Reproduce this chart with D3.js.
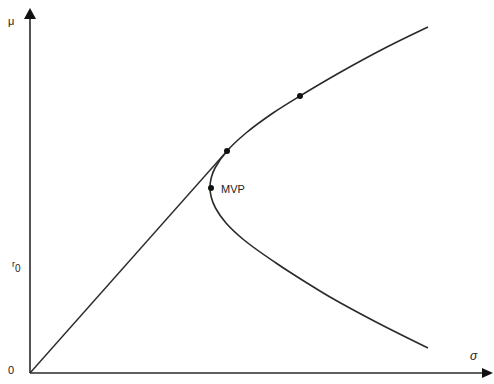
<!DOCTYPE html>
<html>
<head>
<meta charset="utf-8">
<script src="https://cdn.jsdelivr.net/npm/d3@7"></script>
<style>
  html, body { margin: 0; padding: 0; background: #fff; }
  svg { display: block; }
  text { font-family: "Liberation Sans", Arial, sans-serif; fill: #222; }
</style>
</head>
<body>
<svg id="chart" width="494" height="384"></svg>
<script>
// Efficient frontier in (sigma, mu) space, lower branch to upper branch
const frontierSigma = [39.8, 34.6, 30.0, 27.7, 24.6, 21.4, 19.6, 18.55, 18.12, 18.0, 18.12, 18.5, 19.7, 21.6, 24.3, 27.0, 30.9, 35.5, 39.8];
const frontierMu    = [2.5,  5.1,  7.6,  9.0,  11.0, 13.3, 15.0, 16.5,  17.6,  18.55, 19.5, 20.5, 22.2, 24.0, 26.0, 27.7, 30.0, 32.5, 34.6];

// Line from the origin to the tangency portfolio
const lineSigma = [0, 19.7];
const lineMu    = [0, 22.2];

// Marked portfolios: MVP, tangency, and a point further up the frontier
const pointSigma  = [18.1, 19.7, 27.0];
const pointMu     = [18.5, 22.2, 27.7];
const pointLabels = ["MVP", "", ""];

// Axis annotations
const axisLabelX = "σ";
const axisLabelY = "μ";
const originLabel = "0";
const riskFreeLabel = "r";
const riskFreeSub = "0";
const riskFreeMu = 10.5;

const svg = d3.select("#chart");
const x = d3.scaleLinear().domain([0, 46]).range([30, 490]);
const y = d3.scaleLinear().domain([0, 36.5]).range([373, 8]);

const ink = "#2a2a2a";

// Axes with arrowheads
const x0 = x(0), y0 = y(0);
const xEnd = 493, yEnd = 8;
svg.append("line").attr("x1", x0).attr("y1", y0).attr("x2", xEnd - 8).attr("y2", y0)
  .attr("stroke", ink).attr("stroke-width", 1.6);
svg.append("line").attr("x1", x0).attr("y1", y0).attr("x2", x0).attr("y2", yEnd + 8)
  .attr("stroke", ink).attr("stroke-width", 1.6);
svg.append("path")
  .attr("d", `M${xEnd},${y0} L${xEnd - 11},${y0 - 5} L${xEnd - 11},${y0 + 5} Z`)
  .attr("fill", "#111");
svg.append("path")
  .attr("d", `M${x0},${yEnd} L${x0 - 6},${yEnd + 11} L${x0 + 6},${yEnd + 11} Z`)
  .attr("fill", "#111");

// Frontier curve
const frontier = frontierSigma.map((s, i) => [s, frontierMu[i]]);
const curve = d3.line().x(d => x(d[0])).y(d => y(d[1])).curve(d3.curveCatmullRom.alpha(0.5));
svg.append("path").datum(frontier).attr("d", curve)
  .attr("fill", "none").attr("stroke", ink).attr("stroke-width", 1.6);

// Straight line from origin
const linePts = lineSigma.map((s, i) => [s, lineMu[i]]);
svg.append("path").datum(linePts).attr("d", d3.line().x(d => x(d[0])).y(d => y(d[1])))
  .attr("fill", "none").attr("stroke", ink).attr("stroke-width", 1.4);

// Points
pointSigma.forEach((s, i) => {
  svg.append("circle").attr("cx", x(s)).attr("cy", y(pointMu[i])).attr("r", 3).attr("fill", "#111");
  if (pointLabels[i]) {
    svg.append("text").attr("x", x(s) + 10).attr("y", y(pointMu[i]) + 5)
      .attr("font-size", 11).text(pointLabels[i]);
  }
});

// Axis labels
svg.append("text").attr("x", 8).attr("y", 25).attr("font-size", 11).text(axisLabelY);
svg.append("text").attr("x", 470).attr("y", 360).attr("font-size", 12).attr("font-style", "italic").text(axisLabelX);
svg.append("text").attr("x", 8).attr("y", 374).attr("font-size", 11).text(originLabel);
const rf = svg.append("text").attr("x", 12).attr("y", y(riskFreeMu) - 1).attr("font-size", 9);
rf.append("tspan").text(riskFreeLabel);
rf.append("tspan").attr("dy", 5).attr("font-size", 10).text(riskFreeSub);
</script>
</body>
</html>
